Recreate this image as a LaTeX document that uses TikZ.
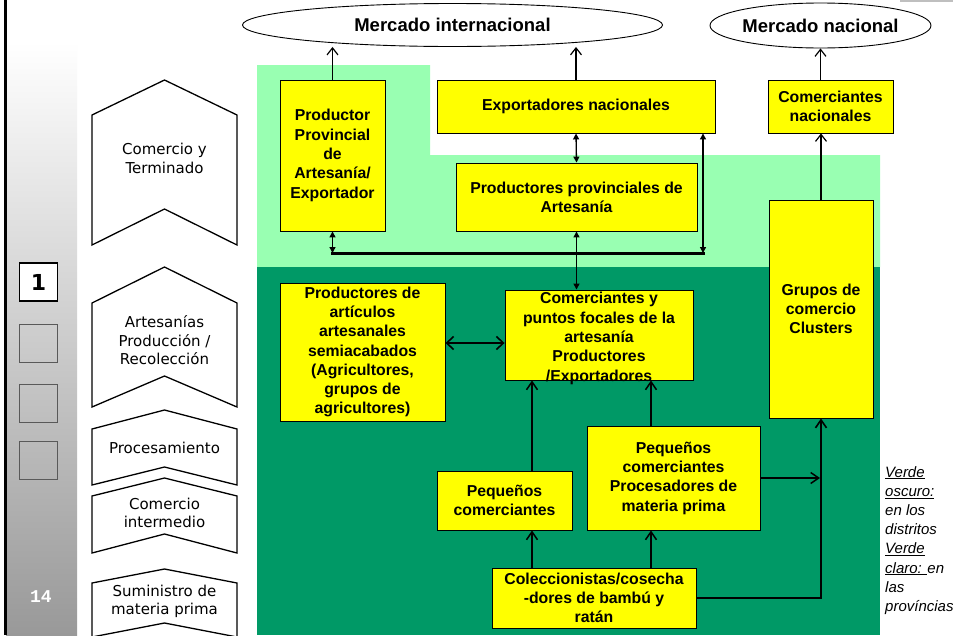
\documentclass[tikz,border=0pt]{standalone}
\usepackage{fontspec}
\setmainfont{Liberation Sans}
\newfontfamily\verd{DejaVu Sans}
\newfontfamily\monof{Liberation Mono}
\usetikzlibrary{arrows.meta,shapes.geometric,calc}
\definecolor{lgreen}{RGB}{153,255,178}
\definecolor{dgreen}{RGB}{0,153,102}
\definecolor{yfill}{RGB}{255,255,0}
\begin{document}
\begin{tikzpicture}[x=1pt,y=-1pt,
  ybox/.style={draw=black, line width=0.9pt, fill=yfill, inner sep=0pt, align=center,
    font=\bfseries\fontsize{15.8}{19.3}\selectfont},
  btext/.style={inner sep=0pt, align=center, font=\bfseries\fontsize{15.8}{19.3}\selectfont},
  mkt/.style={draw=black, line width=0.9pt, fill=white, ellipse, inner sep=0pt,
    font=\bfseries\fontsize{18.5}{20}\selectfont},
  chev/.style={draw=black, line width=1.3pt, fill=white, line join=miter},
  chevtext/.style={inner sep=0pt, align=center, font=\verd\fontsize{15}{18.6}\selectfont},
  numbox/.style={draw=black!65, line width=1pt, minimum width=38pt, minimum height=38pt, inner sep=0pt},
  uparrow/.style={line width=1.2pt, -{Straight Barb[length=7pt,width=11pt,line width=1.2pt]}},
  uparrow2/.style={line width=1.6pt, -{Straight Barb[length=8pt,width=11pt,line width=1.5pt]}},
  hdbl/.style={line width=1.8pt, {Straight Barb[length=7pt,width=13pt,line width=1.6pt]}-{Straight Barb[length=7pt,width=13pt,line width=1.6pt]}},
  dbl/.style={line width=1.3pt, {Triangle[length=6pt,width=6pt]}-{Triangle[length=6pt,width=6pt]}},
  bus/.style={line width=3pt, line cap=rect},
  thickline/.style={line width=2.5pt, -{Straight Barb[length=8pt,width=11pt,line width=1.6pt]}},
  ]
\useasboundingbox (0,0) rectangle (953,635);
\clip (0,0) rectangle (953,635);
\fill[white] (0,0) rectangle (953,635);
% left panel
\shade[top color=white, bottom color=black!40] (6,42) rectangle (77,635);
\fill[black] (3.5,0) rectangle (6.5,635);
\fill[black!25] (900,0) rectangle (953,2);
% green regions
\fill[lgreen] (257,65) -- (430,65) -- (430,155) -- (880,155) -- (880,267) -- (257,267) -- cycle;
\fill[dgreen] (257,267) rectangle (880,635);
% number boxes
\node[numbox, draw=black, line width=1.2pt, fill=white, font=\verd\bfseries\fontsize{22}{22}\selectfont] (n1) at (38.5,282) {1};
\node[numbox] (n2) at (38.5,343) {};
\node[numbox] (n3) at (38.5,403) {};
\node[numbox] (n4) at (38.5,460) {};
\node[text=white, inner sep=0pt, font=\monof\bfseries\fontsize{18}{18}\selectfont] (pg) at (41,597) {14};
% chevrons
\foreach \t/\c/\b/\n in {80/115/245/209, 267/303/407/376, 410/429/485/467, 478/496/553/534, 569/583/637/623}
  \draw[chev] (92,\c) -- (164.5,\t) -- (237,\c) -- (237,\b) -- (164.5,\n) -- (92,\b) -- cycle;
\node[chevtext] (c1) at (164.5,158.5) {Comercio y\\Terminado};
\node[chevtext] (c2) at (164.5,340.5) {Artesanías\\Producción /\\Recolección};
\node[chevtext] (c3) at (164.5,448) {Procesamiento};
\node[chevtext] (c4) at (164.5,513) {Comercio\\intermedio};
\node[chevtext] (c5) at (164.5,601.5) {Suministro de\\materia prima};
% markets
\node[mkt, minimum width=420pt, minimum height=43pt] (mi) at (452.5,25) {Mercado internacional};
\node[mkt, minimum width=195pt, minimum height=45pt] (mn) at (820.5,25.5) {Mercado nacional};
% boxes
\node[ybox, minimum width=105pt, minimum height=151pt] (ppa) at (332.5,155.5) {Productor\\Provincial\\de\\Artesanía/\\Exportador};
\node[ybox, minimum width=278pt, minimum height=53pt] (expn) at (576,106.5) {Exportadores nacionales};
\node[ybox, minimum width=125pt, minimum height=53pt] (comn) at (830.5,106.5) {Comerciantes\\nacionales};
\node[ybox, minimum width=241pt, minimum height=68pt] (ppr) at (576.5,197) {Productores provinciales de\\Artesanía};
\node[ybox, minimum width=104pt, minimum height=218pt] (grp) at (821,309) {Grupos de\\comercio\\Clusters};
\node[ybox, minimum width=165pt, minimum height=138pt] (pda) at (362.5,352) {Productores de\\artículos\\artesanales\\semiacabados\\(Agricultores,\\grupos de\\agricultores)};
\node[ybox, minimum width=188pt, minimum height=90pt] (cpf) at (599,335) {};
\node[btext] (cpft) at (599,338.5) {Comerciantes y\\puntos focales de la\\artesanía\\Productores\\/Exportadores};
\node[ybox, minimum width=135pt, minimum height=59pt] (peq) at (504.5,500.5) {Pequeños\\comerciantes};
\node[ybox, minimum width=173pt, minimum height=104pt] (pcp) at (673.5,478) {Pequeños\\comerciantes\\Procesadores de\\materia prima};
\node[ybox, minimum width=204pt, minimum height=60pt] (col) at (594,598) {Coleccionistas/cosecha\\-dores de bambú y\\ratán};
% legend
\node[anchor=north west, align=left, inner sep=0pt, font=\itshape\fontsize{15}{19.2}\selectfont] (leg) at (885,466)
  {\underline{Verde}\\\underline{oscuro:}\\en los\\distritos\\\underline{Verde}\\\underline{claro: }en\\las\\províncias};
% connectors
\coordinate (busL) at (332.5,253);
\coordinate (busR) at (703,253);
\coordinate (yb) at (0,343);
\coordinate (xa) at (532,0);
\coordinate (xb) at (651,0);
\draw[uparrow] (ppa.north) -- (ppa.north |- mi.south);
\draw[uparrow] (expn.north) -- (expn.north |- mi.south);
\draw[uparrow] (comn.north -| mn.south) -- (mn.south);
\draw[uparrow] (grp.north) -- (grp.north |- comn.south);
\draw[dbl] (expn.south) -- (ppr.north);
\draw[bus] (busL) -- (busR);
\draw[dbl] (ppa.south) -- (busL);
\draw[dbl] (expn.south -| busR) -- (busR);
\draw[dbl] (ppr.south) -- (ppr.south |- cpf.north);
\draw[hdbl] (pda.east |- yb) -- (cpf.west |- yb);
\draw[uparrow2] (xa |- peq.north) -- (xa |- cpf.south);
\draw[uparrow2] (xb |- pcp.north) -- (xb |- cpf.south);
\draw[uparrow2] (xa |- col.north) -- (xa |- peq.south);
\draw[uparrow2] (xb |- col.north) -- (xb |- pcp.south);
\draw[uparrow2] (pcp.east) -- ([xshift=-1pt]grp.south |- pcp.east);
\draw[thickline] (col.east) -| (grp.south);
\end{tikzpicture}
\end{document}
